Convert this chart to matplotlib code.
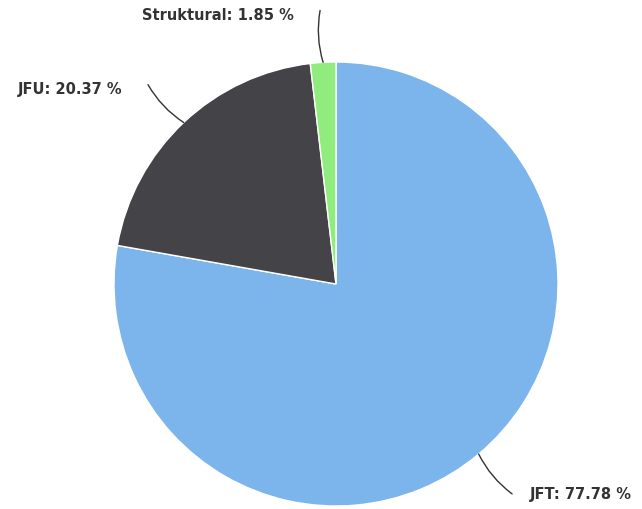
import numpy as np
import matplotlib
matplotlib.use("Agg")
import matplotlib.pyplot as plt

labels = ["JFT", "JFU", "Struktural"]
values = [77.78, 20.37, 1.85]
colors = ["#7cb5ec", "#434348", "#90ed7d"]

W, H = 642, 510
cx, cy, r = 336, H - 285, 222

fig = plt.figure(figsize=(W / 100, H / 100), dpi=100)
ax = fig.add_axes([0, 0, 1, 1])

wedges, _ = ax.pie(values, colors=colors, startangle=90, counterclock=False,
                   center=(cx, cy), radius=r,
                   wedgeprops=dict(edgecolor="white", linewidth=1))

for w, lab, v in zip(wedges, labels, values):
    mid = np.deg2rad((w.theta1 + w.theta2) / 2)
    x0, y0 = cx + r * np.cos(mid), cy + r * np.sin(mid)
    x1, y1 = cx + 274 * np.cos(mid), cy + 274 * np.sin(mid)
    right = np.cos(mid) > 0
    ax.annotate("", xy=(x0, y0), xytext=(x1, y1),
                arrowprops=dict(arrowstyle="-", color="#333333", lw=1,
                                shrinkA=0, shrinkB=0,
                                connectionstyle="arc3,rad=-0.12" if right else "arc3,rad=0.12"))
    ax.text(x1 + (18 if right else -26), y1 + (0 if right else -4), f"{lab}: {v:.2f} %",
            ha="left" if right else "right", va="center",
            fontsize=10.5, fontweight="bold", color="#333333")

ax.set_xlim(0, W)
ax.set_ylim(0, H)
ax.axis("off")
fig.savefig("out.png", dpi=100)
